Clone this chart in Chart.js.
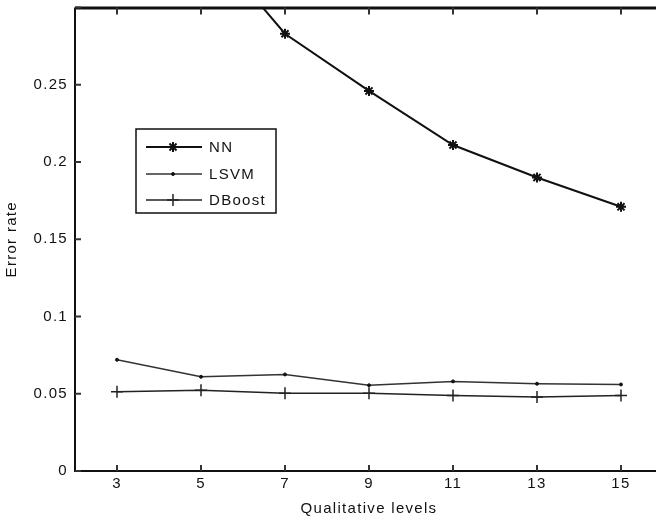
<!DOCTYPE html>
<html>
<head>
<meta charset="utf-8">
<script src="https://cdn.jsdelivr.net/npm/chart.js@4/dist/chart.umd.min.js"></script>
<style>
  html, body { margin: 0; padding: 0; background: #fff; overflow: hidden; }
  #wrap { width: 656px; height: 521px; overflow: hidden; }
  canvas { display: block; }
</style>
</head>
<body>
<div id="wrap"><canvas id="errChart" width="680" height="521"></canvas></div>
<script>
// levels on the x axis
const levels = [3, 5, 7, 9, 11, 13, 15];
// error rates per method
const nnErr = [0.42, 0.347, 0.283, 0.246, 0.211, 0.190, 0.171];
const lsvmErr = [0.072, 0.061, 0.0625, 0.0555, 0.058, 0.0565, 0.056];
const dboostErr = [0.0513, 0.0522, 0.0503, 0.0503, 0.0488, 0.0479, 0.0488];
const yTicks = [0, 0.05, 0.1, 0.15, 0.2, 0.25, 0.3];

const FONT = "'Liberation Sans', Arial, sans-serif";
const INK = "#111";

function toPoints(vals) {
  return levels.map((x, i) => ({ x: x, y: vals[i] }));
}

// axes frame with inward ticks (matlab style)
const framePlugin = {
  id: "frame",
  beforeDraw(chart) {
    chart.ctx.letterSpacing = "1.3px";
  },
  beforeDatasetsDraw(chart) {
    const { ctx, chartArea: a, scales } = chart;
    ctx.save();
    ctx.strokeStyle = INK;
    ctx.lineWidth = 2;
    ctx.beginPath();
    ctx.moveTo(a.left, a.top);
    ctx.lineTo(a.left, a.bottom);
    ctx.lineTo(a.right, a.bottom);
    ctx.stroke();
    ctx.lineWidth = 3;
    ctx.beginPath();
    ctx.moveTo(a.left, a.top + 0.5);
    ctx.lineTo(a.right, a.top + 0.5);
    ctx.stroke();

    ctx.lineWidth = 2;
    ctx.strokeStyle = "#333";
    ctx.beginPath();
    levels.forEach(v => {
      const x = scales.x.getPixelForValue(v);
      ctx.moveTo(x, a.bottom);
      ctx.lineTo(x, a.bottom - 6);
      ctx.moveTo(x, a.top);
      ctx.lineTo(x, a.top + 7);
    });
    yTicks.forEach(v => {
      const y = scales.y.getPixelForValue(v);
      ctx.moveTo(a.left, y);
      ctx.lineTo(a.left + 6, y);
    });
    ctx.stroke();
    ctx.restore();
  },
  afterDraw(chart) {
    // legend box inside the plot
    const ctx = chart.ctx;
    const box = { x: 136, y: 129, w: 140, h: 84 };
    const rows = [147, 174, 200];
    ctx.save();
    ctx.fillStyle = "#fff";
    ctx.fillRect(box.x, box.y, box.w, box.h);
    ctx.strokeStyle = INK;
    ctx.lineWidth = 1.5;
    ctx.strokeRect(box.x, box.y, box.w, box.h);
    chart.data.datasets.forEach((ds, i) => {
      const y = rows[i];
      ctx.strokeStyle = ds.borderColor;
      ctx.lineWidth = ds.borderWidth;
      ctx.beginPath();
      ctx.moveTo(146, y);
      ctx.lineTo(202, y);
      ctx.stroke();
      ctx.fillStyle = ds.pointBackgroundColor;
      ctx.strokeStyle = ds.pointBorderColor;
      ctx.lineWidth = ds.pointBorderWidth;
      Chart.helpers.drawPoint(ctx, {
        pointStyle: ds.pointStyle,
        radius: ds.pointRadius,
        rotation: 0,
        borderWidth: ds.pointBorderWidth
      }, 173, y);
      ctx.fillStyle = INK;
      ctx.font = "15px " + FONT;
      ctx.textBaseline = "middle";
      ctx.fillText(ds.label, 209, y + 1);
    });
    ctx.restore();
  }
};

new Chart(document.getElementById("errChart"), {
  type: "line",
  data: {
    datasets: [
      {
        label: "NN",
        data: toPoints(nnErr),
        borderColor: INK,
        borderWidth: 2,
        pointStyle: "star",
        pointRadius: 5,
        pointBorderWidth: 2,
        pointBorderColor: INK,
        pointBackgroundColor: INK
      },
      {
        label: "LSVM",
        data: toPoints(lsvmErr),
        borderColor: "#333",
        borderWidth: 1.5,
        pointStyle: "circle",
        pointRadius: 1.5,
        pointBorderWidth: 1,
        pointBorderColor: INK,
        pointBackgroundColor: INK
      },
      {
        label: "DBoost",
        data: toPoints(dboostErr),
        borderColor: "#222",
        borderWidth: 1.5,
        pointStyle: "cross",
        pointRadius: 6,
        pointBorderWidth: 1.5,
        pointBorderColor: "#222",
        pointBackgroundColor: "#222"
      }
    ]
  },
  options: {
    responsive: false,
    animation: false,
    layout: { padding: { left: 0, top: 4, right: 17, bottom: 0 } },
    plugins: { legend: { display: false }, tooltip: { enabled: false } },
    elements: { line: { tension: 0 } },
    scales: {
      x: {
        type: "linear",
        min: 2,
        max: 16,
        afterFit: s => { s.height = 50; s.paddingLeft = 0; s.paddingRight = 0; },
        afterBuildTicks: s => { s.ticks = levels.map(v => ({ value: v })); },
        grid: { display: false, drawTicks: false },
        border: { display: false },
        ticks: { color: INK, font: { family: FONT, size: 15 }, padding: 4, maxRotation: 0 },
        title: {
          display: true,
          text: "Qualitative levels",
          color: INK,
          font: { family: FONT, size: 15 },
          padding: { top: 0, bottom: 3 }
        }
      },
      y: {
        min: 0,
        max: 0.3,
        afterFit: s => { s.width = 75; s.paddingTop = 0; s.paddingBottom = 0; },
        afterBuildTicks: s => { s.ticks = yTicks.map(v => ({ value: v })); },
        grid: { display: false, drawTicks: false },
        border: { display: false },
        ticks: {
          color: INK,
          font: { family: FONT, size: 15 },
          padding: 7,
          callback: v => (v > 0.29 ? "" : String(+v.toFixed(2)))
        },
        title: {
          display: true,
          text: "Error rate",
          color: INK,
          font: { family: FONT, size: 15 },
          padding: { top: 3, bottom: 0 }
        }
      }
    }
  },
  plugins: [framePlugin]
});
</script>
</body>
</html>
